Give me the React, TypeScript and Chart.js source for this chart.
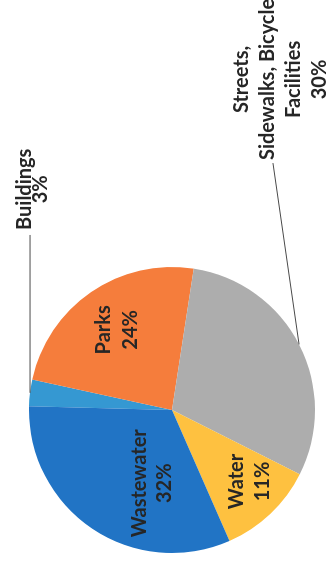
import React, { useEffect, useRef } from 'react';
import { Chart, registerables } from 'chart.js';

Chart.register(...registerables);

// ---- data ----
const categories = ['Buildings', 'Parks', 'Streets, Sidewalks, Bicycle Facilities', 'Water', 'Wastewater'];
const shares = [3, 24, 30, 11, 32];
const labelLines = [['Buildings'], ['Parks'], ['Streets,', 'Sidewalks, Bicycle', 'Facilities'], ['Water'], ['Wastewater']];

// ---- style ----
const colors = ['#3598D2', '#F57D3C', '#ADADAD', '#FEC140', '#2174C5'];
const textColor = '#262626';
const FONT = 'bold 20px Lato';

type Placement = {
  outside: boolean;
  frac?: number;
  shift?: number;
  endX?: number;
  endY?: number;
  level?: boolean;
  gap?: number;
  dy?: number;
  lineHeight: number;
};

const placement: Placement[] = [
  { outside: true, endX: 1.224, level: true, gap: 5, dy: 3, lineHeight: 16 },
  { outside: false, frac: 0.68, shift: 0, lineHeight: 27 },
  { outside: true, endX: 1.727, endY: 0.706, gap: 3, dy: 8, lineHeight: 26 },
  { outside: false, frac: 0.74, shift: -4, lineHeight: 26 },
  { outside: false, frac: 0.53, shift: -19, lineHeight: 25 },
];

const labelPlugin = {
  id: 'sliceLabels',
  afterDatasetsDraw(chart: any) {
    const ctx = chart.ctx as CanvasRenderingContext2D;
    const meta = chart.getDatasetMeta(0);
    meta.data.forEach((arc: any, i: number) => {
      const { x, y, startAngle, endAngle, outerRadius } = arc.getProps(
        ['x', 'y', 'startAngle', 'endAngle', 'outerRadius'],
        true
      );
      const mid = (startAngle + endAngle) / 2;
      const lines = [...labelLines[i], `${shares[i]}%`];
      const p = placement[i];
      ctx.save();
      ctx.font = FONT;
      ctx.fillStyle = textColor;
      ctx.textAlign = 'center';
      ctx.textBaseline = 'middle';
      let cx: number;
      let cy: number;
      if (!p.outside) {
        const a = mid + ((p.shift || 0) * Math.PI) / 180;
        cx = x + Math.cos(a) * outerRadius * (p.frac || 0.6);
        cy = y + Math.sin(a) * outerRadius * (p.frac || 0.6);
      } else {
        const sx = x + Math.cos(mid) * outerRadius;
        const sy = y + Math.sin(mid) * outerRadius;
        const ex = x + (p.endX || 0) * outerRadius;
        const ey = p.level ? sy : y + (p.endY || 0) * outerRadius;
        ctx.strokeStyle = '#4a4a4a';
        ctx.lineWidth = 1;
        ctx.beginPath();
        ctx.moveTo(sx, sy);
        ctx.lineTo(ex, ey);
        ctx.stroke();
        const w = Math.max(...lines.map((t) => ctx.measureText(t).width));
        cx = ex + (p.gap || 0) + w / 2;
        cy = ey + (p.dy || 0);
      }
      lines.forEach((t, k) => {
        ctx.fillText(t, cx, cy + (k - (lines.length - 1) / 2) * p.lineHeight);
      });
      ctx.restore();
    });
  },
};

export default function App() {
  const ref = useRef<HTMLCanvasElement | null>(null);
  useEffect(() => {
    if (!ref.current) return;
    const chart = new Chart(ref.current, {
      type: 'pie',
      data: {
        labels: categories,
        datasets: [
          {
            data: shares,
            backgroundColor: colors,
            borderWidth: 0,
          },
        ],
      },
      options: {
        responsive: false,
        animation: false,
        rotation: 1.5,
        layout: { padding: { left: 13, right: 267, top: 29, bottom: 13 } },
        plugins: {
          legend: { display: false },
          tooltip: { enabled: false },
        },
      },
      plugins: [labelPlugin],
    });
    return () => chart.destroy();
  }, []);

  return (
    <div
      style={{
        position: 'absolute',
        left: 0,
        top: 0,
        width: 566,
        height: 328,
        background: '#ffffff',
        transformOrigin: 'top left',
        transform: 'translate(0px, 566px) rotate(-90deg)',
      }}
    >
      <canvas ref={ref} width={566} height={328} style={{ display: 'block', width: 566, height: 328 }} />
    </div>
  );
}
